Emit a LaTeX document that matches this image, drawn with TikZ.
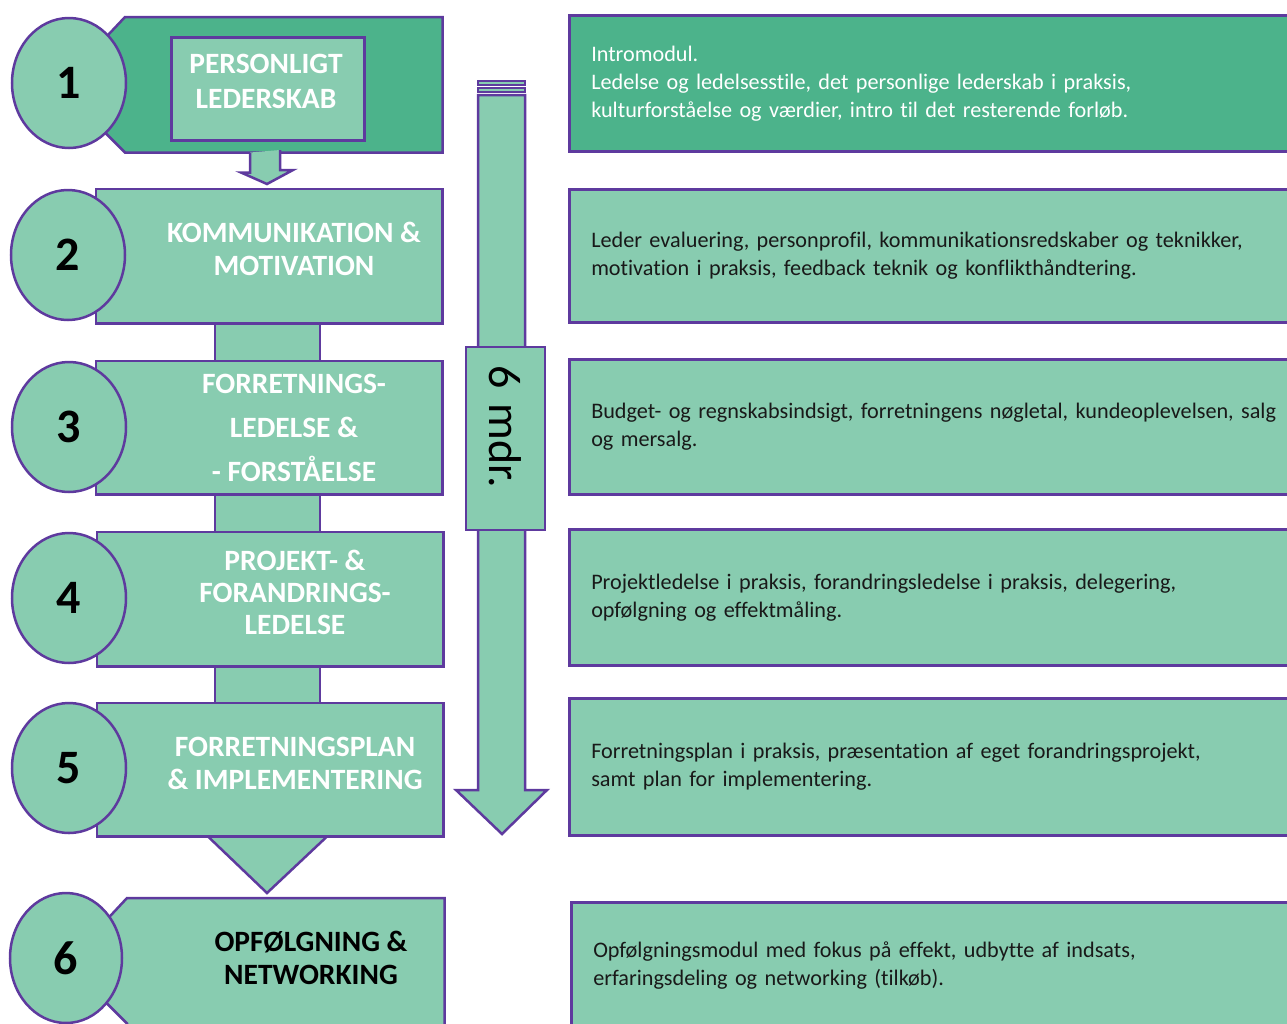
\documentclass[tikz,border=0pt]{standalone}
\usepackage{fontspec}
\setmainfont{Carlito}[Ligatures={NoCommon}]
\usetikzlibrary{shapes.geometric,calc}
\definecolor{darkgreen}{HTML}{4CB38B}
\definecolor{lightgreen}{HTML}{88CCB0}
\definecolor{borderpurple}{HTML}{5E3A9E}

\begin{document}
\begin{tikzpicture}[
    x=1pt, y=-1pt,
    numcircle/.style={
    ellipse,
    draw=borderpurple,
    fill=lightgreen,
    line width=2.5pt,
    inner sep=0pt,
    minimum width=114pt,
    minimum height=130pt,
    font=\fontsize{48}{48}\bfseries\selectfont},
    block/.style={
    rectangle,
    draw=borderpurple,
    fill=lightgreen,
    line width=2.5pt,
    inner sep=0pt,
    anchor=north west,
    minimum width=344pt,
    minimum height=132pt},
    headline/.style={align=center, text=white, font=\fontsize{29.5}{33}\bfseries\selectfont},
    desc/.style={
    rectangle,
    draw=borderpurple,
    fill=lightgreen,
    line width=2.5pt,
    anchor=north west,
    text width=720pt,
    inner xsep=22pt,
    align=left,
    minimum height=135pt,
    text=black!90,
    font=\fontsize{22.2}{28}\selectfont},
    link/.style={draw=borderpurple, fill=lightgreen, line width=2.5pt, line join=miter}
    ]
    \useasboundingbox (0,0) rectangle (1287,1023);

    % right column
    \node[desc, fill=darkgreen, text=white, minimum height=136pt] (d1) at (568,14)
        {Intromodul.\\Ledelse og ledelsesstile, det personlige lederskab i praksis,\\kulturforståelse og værdier, intro til det resterende forløb.};
    \node[desc, minimum height=133pt] (d2) at (568,188)
        {Leder evaluering, personprofil, kommunikationsredskaber og teknikker,\\motivation i praksis, feedback teknik og konflikthåndtering.};
    \node[desc] (d3) at (568,358)
        {Budget- og regnskabsindsigt, forretningens nøgletal, kundeoplevelsen, salg\\og mersalg.};
    \node[desc, minimum height=136pt] (d4) at (568,528)
        {Projektledelse i praksis, forandringsledelse i praksis, delegering,\\opfølgning og effektmåling.};
    \node[desc, minimum height=137pt] (d5) at (568,697)
        {Forretningsplan i praksis, præsentation af eget forandringsprojekt,\\samt plan for implementering.};
    \node[desc, minimum height=126pt] (d6) at (570,901)
        {Opfølgningsmodul med fokus på effekt, udbytte af indsats,\\erfaringsdeling og networking (tilkøb).};

    % time arrow
    \draw[link] (478,95) -- (478,790) -- (456,790) -- (502,834) -- (547,790) -- (525,790) -- (525,95) -- cycle;
    \draw[link] (478,88) rectangle (525,92);
    \draw[link] (478,81) rectangle (525,85);
    \node[rectangle, draw=borderpurple, fill=lightgreen, line width=2pt, rotate=-90,
        minimum width=183pt, minimum height=79pt, text width=147pt, inner xsep=18pt, align=left,
        font=\fontsize{46}{46}\selectfont] (m) at (505.5,438.5) {6 mdr.};

    % left column
    \node[block, draw=none, fill=none, minimum width=315pt, minimum height=133pt] (b1) at (125,17) {};
    \draw[link, fill=darkgreen] (b1.south west) -- ++(-40,-40) -- ++(0,-53) -- (b1.north west)
        -- (b1.north east) -- (b1.south east) -- cycle;
    \node[block, minimum width=193pt, minimum height=103pt] (h1) at (170,36) {};

    \node[block] (b2) at (96,189) {};
    \node[block, minimum height=131pt] (b3) at (96,361) {};
    \node[block] (b4) at (97,532) {};
    \node[block, minimum height=131pt] (b5) at (97,703) {};
    \node[block, draw=none, fill=none, minimum width=315pt, minimum height=132pt] (b6) at (127,898) {};

    \draw[link] ($(b1.south west)+(125,0)$) -- ++(0,20) -- ++(-9,0) -- ($(b2.north west)+(171,-5)$)
        -- ++(26,-14) -- ++(-13,0) -- ++(0,-20);
    \draw[link] ($(b2.south west)+(119,0)$) rectangle ($(b3.north west)+(224,0)$);
    \draw[link] ($(b3.south west)+(119,0)$) rectangle ($(b4.north west)+(223,0)$);
    \draw[link] ($(b4.south west)+(118,0)$) rectangle ($(b5.north west)+(223,0)$);
    \draw[link] (b2.north west) rectangle (b2.south east);
    \draw[link] (b3.north west) rectangle (b3.south east);
    \draw[link] (b4.north west) rectangle (b4.south east);
    \draw[link] (b5.north west) rectangle (b5.south east);
    \draw[link] ($(b5.south west)+(111,0)$) -- ($(b6.north west)+(140,-5)$) -- ($(b5.south west)+(230,0)$) -- cycle;
    \draw[link] (b6.south west) -- ++(0,-9) -- ++(-35,-35) -- ++(0,-53) -- (b6.north west)
        -- (b6.north east) -- (b6.south east);

    \node[headline, font=\fontsize{29.5}{35}\bfseries\selectfont] (t1) at (266,81) {PERSONLIGT\\LEDERSKAB};
    \node[headline] (t2) at (294,249) {KOMMUNIKATION \&\\MOTIVATION};
    \node[headline, font=\fontsize{29.5}{44}\bfseries\selectfont] (t3) at (294,428) {FORRETNINGS-\\LEDELSE \&\\- FORSTÅELSE};
    \node[headline, font=\fontsize{29.5}{32}\bfseries\selectfont] (t4) at (295,592) {PROJEKT- \&\\FORANDRINGS-\\LEDELSE};
    \node[headline] (t5) at (295,763) {FORRETNINGSPLAN\\\& IMPLEMENTERING};
    \node[headline, text=black] (t6) at (311,958) {OPFØLGNING \&\\NETWORKING};

    \node[numcircle] (c1) at (69,83) {1};
    \node[numcircle] (c2) at (68,255) {2};
    \node[numcircle] (c3) at (69,427) {3};
    \node[numcircle] (c4) at (69,598) {4};
    \node[numcircle] (c5) at (69,768) {5};
    \node[numcircle, minimum width=112pt] (c6) at (66,958) {6};
\end{tikzpicture}
\end{document}
